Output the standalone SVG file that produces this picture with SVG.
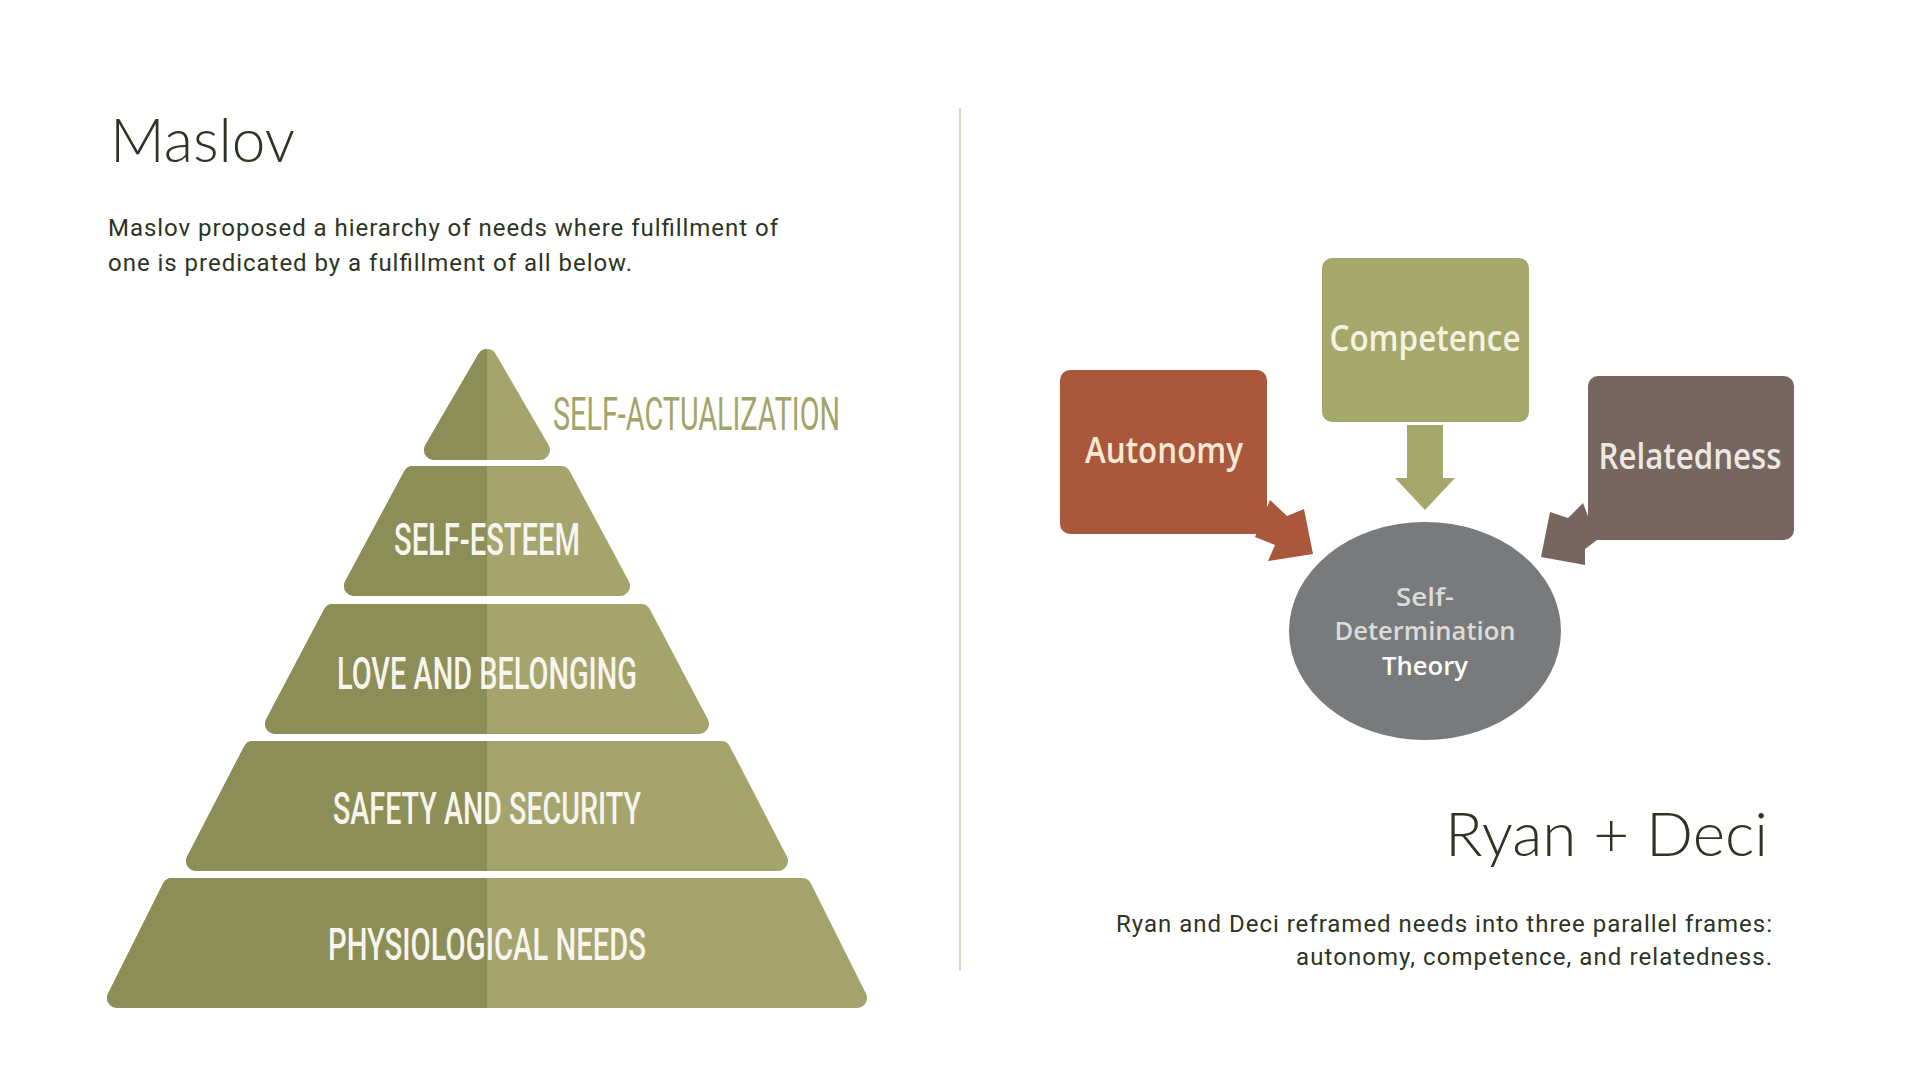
<svg xmlns="http://www.w3.org/2000/svg" width="1920" height="1080" viewBox="0 0 1920 1080">
  <defs>
    <style>
      .head { font-family: Lato, "Open Sans", "Liberation Sans", sans-serif; font-weight: 300; fill: #2c3424; }
      .para { font-family: Roboto, "Liberation Sans", sans-serif; font-weight: 400; font-size: 24px; fill: #2c3424; }
      .pyr { font-family: Roboto, "Liberation Sans", sans-serif; font-weight: 500; font-size: 45px; fill: #f7f5ee; text-anchor: middle; }
      .dark { fill: #8b8e56; stroke: #8b8e56; stroke-width: 20; stroke-linejoin: round; }
      .light { fill: #a4a46c; stroke: #a4a46c; stroke-width: 20; stroke-linejoin: round; }
      .box { font-family: "Open Sans", Lato, "Liberation Sans", sans-serif; font-weight: 600; font-size: 36px; text-anchor: middle; }
      .sdt { font-family: "Open Sans", Lato, "Liberation Sans", sans-serif; font-weight: 600; font-size: 25px; text-anchor: middle; }
    </style>
    <clipPath id="leftHalf">
      <rect x="0" y="0" width="487" height="1080"/>
    </clipPath>
  </defs>

  <rect x="0" y="0" width="1920" height="1080" fill="#ffffff"/>

  <!-- divider -->
  <line x1="960" y1="108" x2="960" y2="971" stroke="#cfcdb0" stroke-width="1.5"/>

  <!-- Left texts -->
  <g id="maslov-title">
    <text class="head" x="110" y="162" font-size="62" textLength="185" lengthAdjust="spacingAndGlyphs">Maslov</text>
  </g>
  <g id="maslov-text">
    <text class="para" x="108" y="236" textLength="670" lengthAdjust="spacing">Maslov proposed a hierarchy of needs where fulfillment of</text>
    <text class="para" x="108" y="271" textLength="524" lengthAdjust="spacing">one is predicated by a fulfillment of all below.</text>
  </g>

  <!-- Pyramid -->
  <g id="level-self-actualization">
    <polygon class="light" points="487,359 540,450 434,450"/>
    <polygon class="dark" clip-path="url(#leftHalf)" points="487,359 540,450 434,450"/>
    <text x="553" y="430" font-family="Roboto, 'Liberation Sans', sans-serif" font-weight="400" font-size="47" fill="#a3a46a" textLength="287" lengthAdjust="spacingAndGlyphs">SELF-ACTUALIZATION</text>
  </g>
  <g id="level-self-esteem">
    <polygon class="light" points="413,476 561,476 620,586 354,586"/>
    <polygon class="dark" clip-path="url(#leftHalf)" points="413,476 561,476 620,586 354,586"/>
    <text class="pyr" x="487" y="555" textLength="186" lengthAdjust="spacingAndGlyphs">SELF-ESTEEM</text>
  </g>
  <g id="level-love">
    <polygon class="light" points="333,614 641,614 699,724 275,724"/>
    <polygon class="dark" clip-path="url(#leftHalf)" points="333,614 641,614 699,724 275,724"/>
    <text class="pyr" x="487" y="689" textLength="300" lengthAdjust="spacingAndGlyphs">LOVE AND BELONGING</text>
  </g>
  <g id="level-safety">
    <polygon class="light" points="253,751 721,751 778,861 196,861"/>
    <polygon class="dark" clip-path="url(#leftHalf)" points="253,751 721,751 778,861 196,861"/>
    <text class="pyr" x="487" y="824" textLength="308" lengthAdjust="spacingAndGlyphs">SAFETY AND SECURITY</text>
  </g>
  <g id="level-physiological">
    <polygon class="light" points="172,888 802,888 857,998 117,998"/>
    <polygon class="dark" clip-path="url(#leftHalf)" points="172,888 802,888 857,998 117,998"/>
    <text class="pyr" x="487" y="960" textLength="318" lengthAdjust="spacingAndGlyphs">PHYSIOLOGICAL NEEDS</text>
  </g>

  <!-- Right diagram: connectors -->
  <g id="connectors">
    <polygon fill="#a4a86a" points="1407,425 1443,425 1443,478 1455,478 1425,510 1395,478 1407,478"/>
    <polygon fill="#a9583b" points="1270,500 1287,516 1304,509 1313,554 1268,561 1275,545 1255,537"/>
    <polygon fill="#77655f" points="1583,503 1568,518 1550,512 1541,557 1585,565 1585,549 1597,540"/>
  </g>

  <!-- Right diagram: nodes -->
  <g id="node-competence">
    <rect x="1322" y="258" width="207" height="164" rx="10" fill="#a4a86a"/>
    <text class="box" x="1425" y="351" fill="#f4f1e2" textLength="191" lengthAdjust="spacingAndGlyphs">Competence</text>
  </g>
  <g id="node-autonomy">
    <rect x="1060" y="370" width="207" height="164" rx="10" fill="#a9583b"/>
    <text class="box" x="1164" y="463" fill="#f8e9d6" textLength="158" lengthAdjust="spacingAndGlyphs">Autonomy</text>
  </g>
  <g id="node-relatedness">
    <rect x="1588" y="376" width="206" height="164" rx="10" fill="#77655f"/>
    <text class="box" x="1690" y="469" fill="#ece8e2" textLength="183" lengthAdjust="spacingAndGlyphs">Relatedness</text>
  </g>
  <g id="node-sdt">
    <ellipse cx="1425" cy="631" rx="136" ry="109" fill="#797a7c"/>
    <text class="sdt" x="1425" y="606" fill="#dcdcd8" textLength="58" lengthAdjust="spacingAndGlyphs">Self-</text>
    <text class="sdt" x="1425" y="640" fill="#dcdcd8" textLength="181" lengthAdjust="spacingAndGlyphs">Determination</text>
    <text class="sdt" x="1425" y="675" fill="#ffffff" font-weight="700" textLength="86" lengthAdjust="spacingAndGlyphs">Theory</text>
  </g>

  <!-- Right texts -->
  <g id="ryan-deci-title">
    <text class="head" x="1768" y="856" font-size="62" text-anchor="end" textLength="323" lengthAdjust="spacingAndGlyphs">Ryan + Deci</text>
  </g>
  <g id="ryan-deci-text">
    <text class="para" x="1772" y="932" text-anchor="end" textLength="656" lengthAdjust="spacing">Ryan and Deci reframed needs into three parallel frames:</text>
    <text class="para" x="1772" y="965" text-anchor="end" textLength="476" lengthAdjust="spacing">autonomy, competence, and relatedness.</text>
  </g>
</svg>
